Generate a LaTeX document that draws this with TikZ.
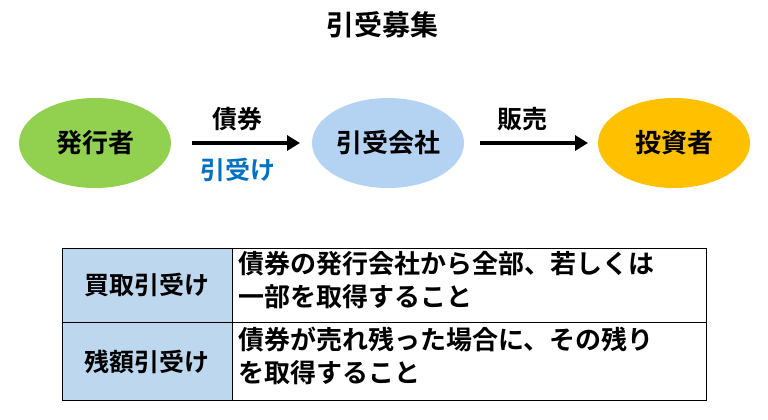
\documentclass[tikz,border=0pt]{standalone}
\usepackage{fontspec}
\setmainfont{Noto Sans CJK JP}[BoldFont={* Bold}]
\usetikzlibrary{arrows.meta,shapes.geometric}
\definecolor{gr}{HTML}{92D050}
\definecolor{lb}{HTML}{B4D3F2}
\definecolor{og}{HTML}{FFC000}
\definecolor{tb}{HTML}{BDD7EE}
\definecolor{bt}{HTML}{0070C0}
\begin{document}
\begin{tikzpicture}[x=1pt,y=-1pt,
  el/.style={ellipse,minimum width=152pt,minimum height=90pt,inner sep=0pt,font=\fontsize{26}{30}\bfseries},
  lbl/.style={font=\fontsize{25}{30}\bfseries,inner sep=0pt},
  ar/.style={line width=3.5pt,-{Triangle[length=13pt,width=15pt]}},
  cell/.style={draw=black,line width=0.8pt,anchor=north west,inner sep=0pt}]
\useasboundingbox (0,0) rectangle (768,420);
\node[lbl,font=\fontsize{28}{30}\bfseries] (t) at (382,25) {引受募集};
\node[el,fill=gr] (a) at (95,143) {発行者};
\node[el,fill=lb] (b) at (388,143) {引受会社};
\node[el,fill=og] (c) at (674,143) {投資者};
\draw[ar] (192,143) -- (300,143);
\draw[ar] (480,143) -- (588,143);
\node[lbl] (l1) at (237,119) {債券};
\node[lbl,text=bt] (l2) at (238,170) {引受け};
\node[lbl] (l3) at (522,119) {販売};
\node[cell,fill=tb,minimum width=170pt,minimum height=74pt] (h1) at (62,248) {};
\node[cell,minimum width=474pt,minimum height=74pt] (d1) at (232,248) {};
\node[cell,fill=tb,minimum width=170pt,minimum height=78pt] (h2) at (62,322) {};
\node[cell,minimum width=474pt,minimum height=78pt] (d2) at (232,322) {};
\node[lbl] at (h1.center) {買取引受け};
\node[lbl] at (h2.center) {残額引受け};
\node[lbl,anchor=north west,align=left,font=\fontsize{26}{33}\bfseries] at (238,251) {債券の発行会社から全部、若しくは\\一部を取得すること};
\node[lbl,anchor=north west,align=left,font=\fontsize{26}{33}\bfseries] at (238,327) {債券が売れ残った場合に、その残り\\を取得すること};
\end{tikzpicture}
\end{document}
